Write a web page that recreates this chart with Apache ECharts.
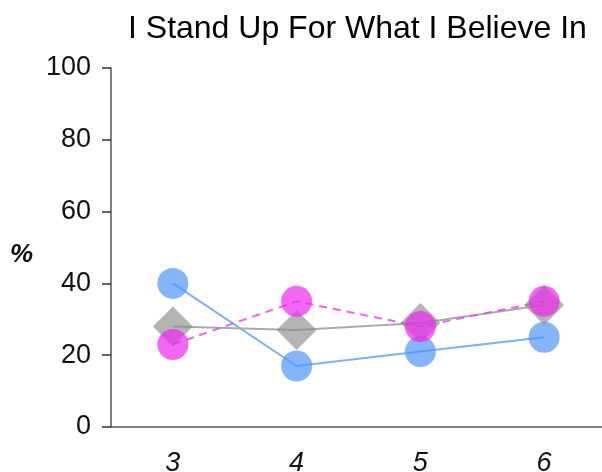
<!DOCTYPE html>
<html>
<head>
<meta charset="utf-8">
<script src="https://cdn.jsdelivr.net/npm/echarts@6/dist/echarts.min.js"></script>
<style>html,body{margin:0;padding:0;background:#fff}#c{width:602px;height:472px}</style>
</head>
<body>
<div id="c"></div>
<script>
const categories = ['3', '4', '5', '6'];
const blueValues = [40, 17, 21, 25];
const grayValues = [28, 27, 29, 34];
const magentaValues = [23, 35, 28, 35];
const yTicks = [0, 20, 40, 60, 80, 100];

const chart = echarts.init(document.getElementById('c'), null, {renderer: 'canvas'});
const font = 'Liberation Sans, Arial, Helvetica, sans-serif';
chart.setOption({
  animation: false,
  backgroundColor: '#fff',
  title: [
    {
      text: 'I Stand Up For What I Believe In',
      left: 123, top: 8,
      textStyle: {fontFamily: font, fontSize: 32, fontWeight: 'normal', color: '#000'}
    },
    {
      text: '%',
      left: 5, top: 237,
      textStyle: {fontFamily: font, fontSize: 26, fontWeight: 'bold', fontStyle: 'italic', color: '#111'}
    }
  ],
  grid: {left: 111, right: -4, top: 68, bottom: 45, containLabel: false, outerBoundsMode: 'none'},
  xAxis: {
    type: 'category', data: categories, boundaryGap: true,
    axisLine: {lineStyle: {color: '#555', width: 1.5}},
    axisTick: {alignWithLabel: true, length: 9, lineStyle: {color: '#333', width: 1.5}},
    axisLabel: {margin: 23, fontFamily: font, fontSize: 27, fontStyle: 'italic', color: '#111'},
    splitLine: {show: false}
  },
  yAxis: {
    type: 'value', min: yTicks[0], max: yTicks[yTicks.length - 1], interval: 20,
    axisLine: {show: true, lineStyle: {color: '#555', width: 1.5}},
    axisTick: {show: true, length: 9, lineStyle: {color: '#333', width: 1.5}},
    axisLabel: {margin: 20, fontFamily: font, fontSize: 27, color: '#111'},
    splitLine: {show: false}
  },
  series: [
    {
      type: 'line', data: blueValues, symbol: 'circle', symbolSize: 31,
      itemStyle: {color: 'rgba(80,150,250,0.7)'},
      lineStyle: {color: 'rgba(80,150,250,0.75)', width: 2}
    },
    {
      type: 'line', data: grayValues, symbol: 'diamond', symbolSize: 40,
      itemStyle: {color: 'rgba(140,140,140,0.65)'},
      lineStyle: {color: '#aaaaaa', width: 2}
    },
    {
      type: 'line', data: magentaValues, symbol: 'circle', symbolSize: 31,
      itemStyle: {color: 'rgba(238,40,238,0.7)'},
      lineStyle: {color: 'rgba(238,70,238,0.85)', width: 2, type: [8, 6]}
    }
  ]
});
</script>
</body>
</html>
